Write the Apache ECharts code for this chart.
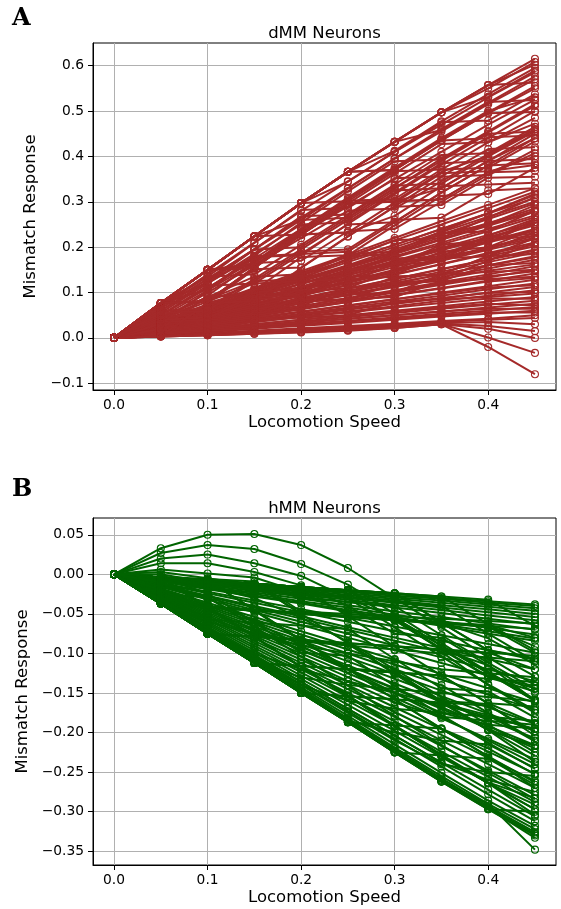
<!DOCTYPE html>
<html><head><meta charset="utf-8">
<script src="https://cdn.jsdelivr.net/npm/echarts@6/dist/echarts.min.js"></script>
<style>html,body{margin:0;padding:0;background:#fff}#c{width:561px;height:909px}</style>
</head><body><div id="c"></div>
<script>
const speeds = [0, 0.05, 0.1, 0.15, 0.2, 0.25, 0.3, 0.35, 0.4, 0.45];
const xTicks = [0, 0.1, 0.2, 0.3, 0.4];
const yTicksA = [-0.1, 0, 0.1, 0.2, 0.3, 0.4, 0.5, 0.6];
const yTicksB = [-0.35, -0.3, -0.25, -0.2, -0.15, -0.1, -0.05, 0, 0.05];

// dMM neurons: steep, staircase-like responses (upper band)
const dmmUpper = [
[0,0.077,0.150,0.224,0.297,0.366,0.432,0.497,0.557,0.615],
[0,0.077,0.150,0.224,0.297,0.366,0.432,0.497,0.550,0.608],
[0,0.077,0.150,0.224,0.297,0.366,0.432,0.497,0.557,0.602],
[0,0.077,0.150,0.224,0.297,0.366,0.412,0.477,0.537,0.595],
[0,0.077,0.150,0.224,0.297,0.366,0.432,0.497,0.531,0.589],
[0,0.070,0.140,0.210,0.280,0.345,0.410,0.470,0.530,0.585],
[0,0.077,0.150,0.224,0.297,0.366,0.432,0.458,0.518,0.576],
[0,0.060,0.125,0.195,0.265,0.330,0.395,0.455,0.515,0.570],
[0,0.077,0.150,0.224,0.297,0.366,0.432,0.497,0.557,0.563],
[0,0.077,0.150,0.164,0.237,0.306,0.372,0.437,0.497,0.555],
[0,0.077,0.150,0.224,0.297,0.366,0.370,0.435,0.495,0.550],
[0,0.077,0.150,0.224,0.297,0.344,0.410,0.475,0.479,0.537],
[0,0.020,0.093,0.167,0.240,0.309,0.375,0.440,0.500,0.530],
[0,0.050,0.110,0.170,0.230,0.290,0.350,0.410,0.470,0.525],
[0,0.077,0.150,0.224,0.260,0.329,0.395,0.460,0.520,0.524],
[0,0.065,0.130,0.195,0.200,0.265,0.330,0.395,0.455,0.515],
[0,0.077,0.107,0.181,0.254,0.323,0.389,0.393,0.453,0.511],
[0,0.050,0.110,0.175,0.240,0.305,0.370,0.435,0.440,0.500],
[0,0.077,0.150,0.224,0.297,0.366,0.370,0.435,0.495,0.498],
[0,0.077,0.150,0.154,0.227,0.296,0.362,0.427,0.431,0.485],
[0,0.077,0.150,0.224,0.297,0.301,0.367,0.371,0.431,0.472],
[0,0.077,0.121,0.195,0.268,0.272,0.338,0.403,0.407,0.465],
[0,0.040,0.100,0.160,0.220,0.280,0.285,0.345,0.405,0.460],
[0,0.077,0.081,0.155,0.228,0.297,0.301,0.366,0.401,0.459],
[0,0.070,0.135,0.140,0.205,0.270,0.335,0.340,0.400,0.455],
[0,0.065,0.130,0.195,0.260,0.265,0.330,0.390,0.450,0.455],
[0,0.055,0.120,0.185,0.250,0.255,0.320,0.385,0.390,0.450],
[0,0.031,0.104,0.178,0.182,0.251,0.317,0.382,0.442,0.446],
[0,0.060,0.065,0.130,0.195,0.260,0.325,0.330,0.390,0.440],
[0,0.060,0.120,0.180,0.185,0.190,0.255,0.320,0.380,0.440],
[0,0.077,0.150,0.160,0.233,0.302,0.306,0.371,0.375,0.433],
[0,0.077,0.135,0.209,0.282,0.286,0.352,0.356,0.416,0.420],
[0,0.045,0.105,0.165,0.170,0.235,0.240,0.300,0.360,0.415],
[0,0.004,0.077,0.151,0.155,0.224,0.290,0.355,0.359,0.407],
[0,0.077,0.081,0.155,0.228,0.297,0.301,0.305,0.365,0.400],
[0,0.077,0.150,0.154,0.227,0.296,0.300,0.330,0.390,0.394],
[0,0.050,0.115,0.120,0.185,0.250,0.255,0.320,0.380,0.385],
[0,0.077,0.081,0.155,0.228,0.232,0.298,0.363,0.367,0.381],
[0,0.004,0.077,0.105,0.178,0.182,0.248,0.313,0.317,0.375],
[0,0.077,0.150,0.224,0.228,0.297,0.301,0.305,0.365,0.368],
[0,0.004,0.077,0.081,0.154,0.223,0.289,0.293,0.353,0.355],
[0,0.077,0.081,0.155,0.228,0.232,0.269,0.334,0.338,0.342],
[0,0.055,0.060,0.125,0.190,0.195,0.260,0.265,0.325,0.330]
];
// dMM neurons: shallower responses (dense lower band)
const dmmLower = [
[0,0.037,0.073,0.110,0.147,0.183,0.220,0.257,0.293,0.330],
[0,0.036,0.072,0.107,0.143,0.179,0.215,0.250,0.286,0.322],
[0,0.037,0.074,0.105,0.140,0.172,0.205,0.240,0.275,0.318],
[0,0.045,0.090,0.095,0.140,0.185,0.190,0.235,0.275,0.315],
[0,0.040,0.085,0.125,0.130,0.175,0.215,0.220,0.265,0.310],
[0,0.034,0.068,0.103,0.137,0.171,0.205,0.240,0.274,0.308],
[0,0.033,0.067,0.100,0.133,0.167,0.200,0.233,0.267,0.300],
[0,0.036,0.070,0.100,0.130,0.160,0.195,0.228,0.262,0.296],
[0,0.040,0.045,0.090,0.135,0.140,0.185,0.230,0.250,0.292],
[0,0.032,0.063,0.095,0.127,0.158,0.190,0.222,0.253,0.285],
[0,0.035,0.066,0.097,0.128,0.156,0.186,0.218,0.250,0.281],
[0,0.045,0.090,0.135,0.140,0.180,0.185,0.230,0.235,0.280],
[0,0.031,0.062,0.093,0.124,0.154,0.185,0.216,0.247,0.278],
[0,0.030,0.060,0.090,0.120,0.150,0.180,0.210,0.240,0.270],
[0,0.033,0.062,0.090,0.118,0.147,0.177,0.206,0.235,0.266],
[0,0.045,0.050,0.095,0.100,0.145,0.175,0.180,0.225,0.262],
[0,0.040,0.050,0.060,0.105,0.150,0.160,0.170,0.215,0.260],
[0,0.028,0.057,0.085,0.113,0.142,0.170,0.198,0.227,0.255],
[0,0.045,0.055,0.100,0.110,0.150,0.160,0.200,0.210,0.255],
[0,0.031,0.058,0.086,0.112,0.138,0.166,0.195,0.222,0.251],
[0,0.028,0.055,0.083,0.110,0.138,0.165,0.193,0.220,0.248],
[0,0.027,0.053,0.080,0.107,0.133,0.160,0.187,0.213,0.240],
[0,0.010,0.020,0.060,0.100,0.110,0.150,0.190,0.200,0.240],
[0,0.029,0.055,0.081,0.106,0.130,0.156,0.182,0.210,0.236],
[0,0.010,0.050,0.090,0.095,0.135,0.140,0.180,0.195,0.232],
[0,0.010,0.055,0.065,0.110,0.120,0.165,0.175,0.220,0.230],
[0,0.025,0.050,0.075,0.100,0.125,0.150,0.175,0.200,0.225],
[0,0.045,0.090,0.100,0.110,0.150,0.160,0.205,0.215,0.225],
[0,0.028,0.052,0.077,0.100,0.124,0.148,0.172,0.198,0.221],
[0,0.040,0.080,0.120,0.125,0.130,0.170,0.175,0.180,0.220],
[0,0.024,0.048,0.073,0.097,0.121,0.145,0.170,0.194,0.218],
[0,0.023,0.047,0.070,0.093,0.117,0.140,0.163,0.187,0.210],
[0,0.010,0.050,0.060,0.070,0.110,0.120,0.130,0.170,0.210],
[0,0.026,0.049,0.072,0.094,0.116,0.139,0.162,0.185,0.206],
[0,0.040,0.045,0.050,0.090,0.130,0.135,0.140,0.180,0.202],
[0,0.022,0.043,0.065,0.087,0.108,0.130,0.152,0.173,0.195],
[0,0.025,0.046,0.067,0.088,0.109,0.130,0.151,0.172,0.192],
[0,0.021,0.042,0.063,0.084,0.104,0.125,0.146,0.167,0.188],
[0,0.040,0.045,0.085,0.090,0.095,0.135,0.140,0.180,0.185],
[0,0.020,0.040,0.060,0.080,0.100,0.120,0.140,0.160,0.180],
[0,0.023,0.043,0.062,0.082,0.101,0.121,0.140,0.160,0.177],
[0,0.019,0.038,0.057,0.076,0.096,0.115,0.134,0.153,0.172],
[0,0.005,0.040,0.045,0.080,0.085,0.120,0.125,0.160,0.165],
[0,0.022,0.040,0.058,0.076,0.094,0.112,0.130,0.148,0.162],
[0,0.018,0.035,0.053,0.070,0.088,0.105,0.123,0.140,0.158],
[0,0.017,0.033,0.050,0.067,0.083,0.100,0.117,0.133,0.150],
[0,0.005,0.010,0.050,0.090,0.095,0.100,0.140,0.145,0.150],
[0,0.020,0.037,0.054,0.070,0.087,0.103,0.120,0.136,0.147],
[0,0.016,0.032,0.047,0.063,0.079,0.095,0.110,0.126,0.142],
[0,0.035,0.040,0.045,0.080,0.085,0.090,0.125,0.130,0.135],
[0,0.018,0.034,0.049,0.064,0.079,0.094,0.109,0.124,0.132],
[0,0.014,0.028,0.043,0.057,0.071,0.085,0.100,0.114,0.128],
[0,0.013,0.027,0.040,0.053,0.067,0.080,0.093,0.107,0.120],
[0,0.017,0.031,0.045,0.058,0.072,0.085,0.098,0.111,0.116],
[0,0.012,0.025,0.037,0.050,0.062,0.075,0.087,0.100,0.112],
[0,0.012,0.023,0.035,0.047,0.058,0.070,0.082,0.093,0.105],
[0,0.015,0.028,0.040,0.052,0.064,0.076,0.088,0.099,0.101],
[0,0.005,0.010,0.040,0.045,0.050,0.080,0.085,0.090,0.098],
[0,0.010,0.020,0.030,0.040,0.050,0.060,0.070,0.080,0.090],
[0,0.013,0.024,0.035,0.046,0.056,0.067,0.077,0.087,0.086],
[0,0.009,0.018,0.027,0.036,0.046,0.055,0.064,0.073,0.082],
[0,0.008,0.017,0.025,0.033,0.042,0.050,0.058,0.067,0.075],
[0,0.011,0.021,0.030,0.040,0.049,0.058,0.067,0.075,0.072],
[0,0.008,0.015,0.023,0.030,0.038,0.045,0.053,0.060,0.068],
[0,0.010,0.018,0.026,0.034,0.042,0.050,0.058,0.064,0.064],
[0,0.007,0.013,0.020,0.027,0.033,0.040,0.047,0.053,0.060],
[0,0.008,0.015,0.022,0.029,0.036,0.043,0.050,0.056,0.056]
];
// dMM neurons: weakest responses, some turning negative
const dmmLow = [
[0,0.005,0.011,0.016,0.021,0.026,0.031,0.037,0.042,0.050],
[0,0.005,0.010,0.015,0.019,0.024,0.029,0.035,0.040,0.044],
[0,0.004,0.009,0.013,0.018,0.022,0.027,0.033,0.035,0.030],
[0,0.004,0.008,0.012,0.016,0.020,0.025,0.032,0.026,0.015],
[0,0.003,0.006,0.010,0.014,0.018,0.024,0.030,0.020,0.000],
[0,0.003,0.006,0.009,0.012,0.016,0.022,0.030,0.001,-0.033],
[0,0.003,0.006,0.009,0.013,0.017,0.022,0.030,-0.020,-0.080]
];

// hMM neurons: early positive hump, then decline
const hmmHump = [
[0,0.033,0.050,0.051,0.037,0.008,-0.030,-0.067,-0.105,-0.140],
[0,0.027,0.037,0.032,0.013,-0.013,-0.050,-0.087,-0.123,-0.158],
[0,0.020,0.025,0.014,-0.002,-0.030,-0.035,-0.040,-0.075,-0.110],
[0,0.014,0.014,0.003,-0.014,-0.040,-0.075,-0.080,-0.115,-0.150],
[0,0.006,0.001,-0.004,-0.023,-0.050,-0.055,-0.090,-0.125,-0.160],
[0,0.003,-0.005,-0.014,-0.030,-0.035,-0.040,-0.077,-0.112,-0.145],
[0,0.000,-0.010,-0.020,-0.025,-0.030,-0.067,-0.104,-0.139,-0.172]
];
// hMM neurons: weak, nearly linear decline
const hmmWeak = [
[0,-0.004,-0.008,-0.013,-0.017,-0.021,-0.025,-0.030,-0.034,-0.038],
[0,-0.004,-0.009,-0.013,-0.018,-0.022,-0.027,-0.031,-0.036,-0.040],
[0,-0.005,-0.010,-0.014,-0.019,-0.024,-0.029,-0.033,-0.038,-0.043],
[0,-0.005,-0.010,-0.015,-0.020,-0.026,-0.031,-0.036,-0.041,-0.046],
[0,-0.006,-0.011,-0.017,-0.022,-0.028,-0.033,-0.039,-0.044,-0.050],
[0,-0.006,-0.012,-0.018,-0.024,-0.030,-0.036,-0.042,-0.048,-0.054],
[0,-0.006,-0.013,-0.019,-0.026,-0.032,-0.039,-0.045,-0.052,-0.058],
[0,-0.007,-0.014,-0.021,-0.028,-0.035,-0.042,-0.049,-0.056,-0.063],
[0,-0.008,-0.016,-0.023,-0.031,-0.039,-0.047,-0.054,-0.062,-0.070],
[0,-0.008,-0.017,-0.025,-0.034,-0.042,-0.051,-0.059,-0.068,-0.076],
[0,-0.009,-0.018,-0.027,-0.036,-0.045,-0.054,-0.063,-0.072,-0.081],
[0,-0.009,-0.019,-0.028,-0.037,-0.047,-0.056,-0.065,-0.075,-0.084],
[0,-0.011,-0.022,-0.033,-0.044,-0.055,-0.066,-0.077,-0.088,-0.099],
[0,-0.012,-0.024,-0.036,-0.048,-0.060,-0.072,-0.084,-0.096,-0.108],
[0,-0.013,-0.027,-0.040,-0.053,-0.067,-0.080,-0.093,-0.107,-0.120],
[0,-0.015,-0.030,-0.045,-0.060,-0.075,-0.090,-0.105,-0.120,-0.135],
[0,-0.016,-0.032,-0.048,-0.064,-0.080,-0.096,-0.112,-0.128,-0.144],
[0,-0.018,-0.036,-0.054,-0.072,-0.090,-0.108,-0.126,-0.144,-0.162],
[0,-0.019,-0.038,-0.057,-0.076,-0.095,-0.114,-0.133,-0.152,-0.171],
[0,-0.021,-0.042,-0.063,-0.084,-0.105,-0.126,-0.147,-0.168,-0.189],
[0,-0.022,-0.044,-0.066,-0.088,-0.110,-0.132,-0.154,-0.176,-0.198],
[0,-0.023,-0.046,-0.069,-0.092,-0.115,-0.138,-0.161,-0.184,-0.207],
[0,-0.024,-0.048,-0.072,-0.096,-0.120,-0.144,-0.168,-0.192,-0.216],
[0,-0.020,-0.045,-0.070,-0.095,-0.120,-0.145,-0.170,-0.195,-0.220],
[0,-0.026,-0.052,-0.078,-0.104,-0.130,-0.156,-0.182,-0.208,-0.234],
[0,-0.010,-0.030,-0.060,-0.090,-0.120,-0.150,-0.180,-0.210,-0.240],
[0,-0.028,-0.056,-0.084,-0.112,-0.140,-0.168,-0.196,-0.224,-0.252],
[0,-0.029,-0.058,-0.087,-0.116,-0.145,-0.174,-0.203,-0.232,-0.261],
[0,-0.030,-0.060,-0.090,-0.120,-0.150,-0.180,-0.210,-0.240,-0.270],
[0,-0.031,-0.062,-0.093,-0.124,-0.155,-0.186,-0.217,-0.248,-0.279],
[0,-0.032,-0.064,-0.096,-0.128,-0.160,-0.192,-0.224,-0.256,-0.288],
[0,-0.033,-0.066,-0.099,-0.132,-0.165,-0.198,-0.231,-0.264,-0.297]
];
// hMM neurons: staircase-like declines
const hmmStep = [
[0,-0.037,-0.075,-0.112,-0.150,-0.187,-0.225,-0.262,-0.297,-0.330],
[0,-0.037,-0.074,-0.111,-0.148,-0.186,-0.223,-0.260,-0.296,-0.333],
[0,-0.036,-0.074,-0.111,-0.149,-0.186,-0.224,-0.261,-0.295,-0.328],
[0,-0.036,-0.073,-0.110,-0.147,-0.184,-0.221,-0.258,-0.293,-0.326],
[0,-0.036,-0.072,-0.108,-0.145,-0.182,-0.219,-0.255,-0.290,-0.322],
[0,-0.037,-0.075,-0.112,-0.150,-0.187,-0.225,-0.262,-0.290,-0.348],
[0,-0.035,-0.071,-0.107,-0.143,-0.179,-0.215,-0.251,-0.286,-0.318],
[0,-0.035,-0.070,-0.104,-0.139,-0.173,-0.208,-0.243,-0.278,-0.312],
[0,-0.034,-0.068,-0.102,-0.136,-0.170,-0.204,-0.238,-0.272,-0.306],
[0,-0.004,-0.042,-0.079,-0.117,-0.154,-0.192,-0.229,-0.264,-0.297],
[0,-0.037,-0.075,-0.112,-0.116,-0.153,-0.191,-0.228,-0.263,-0.283],
[0,-0.037,-0.075,-0.112,-0.150,-0.187,-0.225,-0.229,-0.264,-0.291],
[0,-0.037,-0.075,-0.079,-0.117,-0.154,-0.192,-0.229,-0.233,-0.266],
[0,-0.037,-0.075,-0.112,-0.150,-0.154,-0.192,-0.229,-0.264,-0.304],
[0,-0.025,-0.029,-0.066,-0.104,-0.141,-0.179,-0.216,-0.251,-0.284],
[0,-0.037,-0.075,-0.112,-0.150,-0.187,-0.225,-0.262,-0.297,-0.300],
[0,-0.034,-0.068,-0.102,-0.136,-0.170,-0.204,-0.238,-0.260,-0.275],
[0,-0.004,-0.042,-0.079,-0.117,-0.154,-0.158,-0.195,-0.230,-0.270],
[0,-0.035,-0.070,-0.105,-0.140,-0.175,-0.210,-0.240,-0.250,-0.255],
[0,-0.037,-0.075,-0.112,-0.150,-0.187,-0.191,-0.195,-0.220,-0.253],
[0,-0.037,-0.041,-0.045,-0.083,-0.120,-0.158,-0.195,-0.230,-0.263],
[0,-0.037,-0.057,-0.061,-0.099,-0.103,-0.141,-0.178,-0.213,-0.246],
[0,-0.037,-0.075,-0.112,-0.150,-0.185,-0.200,-0.210,-0.215,-0.245],
[0,-0.037,-0.075,-0.112,-0.116,-0.120,-0.124,-0.161,-0.196,-0.229],
[0,-0.004,-0.008,-0.012,-0.050,-0.087,-0.125,-0.162,-0.197,-0.237],
[0,-0.008,-0.016,-0.030,-0.055,-0.085,-0.120,-0.155,-0.190,-0.225],
[0,-0.037,-0.075,-0.079,-0.083,-0.087,-0.125,-0.162,-0.197,-0.217],
[0,-0.004,-0.042,-0.046,-0.084,-0.088,-0.126,-0.163,-0.178,-0.211],
[0,-0.020,-0.040,-0.060,-0.080,-0.100,-0.120,-0.140,-0.175,-0.210],
[0,-0.037,-0.041,-0.078,-0.082,-0.119,-0.123,-0.160,-0.164,-0.204],
[0,-0.037,-0.075,-0.112,-0.150,-0.154,-0.158,-0.162,-0.166,-0.199],
[0,-0.035,-0.070,-0.100,-0.120,-0.135,-0.150,-0.165,-0.180,-0.195],
[0,-0.025,-0.050,-0.075,-0.100,-0.125,-0.150,-0.175,-0.190,-0.195],
[0,-0.027,-0.054,-0.081,-0.108,-0.135,-0.162,-0.180,-0.185,-0.190],
[0,-0.004,-0.008,-0.012,-0.016,-0.053,-0.091,-0.128,-0.163,-0.188],
[0,-0.036,-0.072,-0.108,-0.140,-0.160,-0.170,-0.175,-0.180,-0.185],
[0,-0.004,-0.024,-0.061,-0.065,-0.069,-0.107,-0.144,-0.148,-0.181],
[0,-0.014,-0.028,-0.042,-0.056,-0.070,-0.084,-0.098,-0.140,-0.175],
[0,-0.037,-0.075,-0.112,-0.116,-0.120,-0.124,-0.128,-0.163,-0.167],
[0,-0.037,-0.074,-0.110,-0.130,-0.140,-0.145,-0.150,-0.155,-0.160],
[0,-0.005,-0.010,-0.015,-0.020,-0.030,-0.055,-0.090,-0.125,-0.160],
[0,-0.037,-0.075,-0.079,-0.083,-0.087,-0.091,-0.095,-0.115,-0.160],
[0,-0.004,-0.008,-0.012,-0.016,-0.020,-0.058,-0.095,-0.130,-0.148],
[0,-0.037,-0.041,-0.045,-0.049,-0.053,-0.057,-0.094,-0.129,-0.141],
[0,-0.004,-0.008,-0.045,-0.083,-0.120,-0.124,-0.128,-0.132,-0.136],
[0,-0.030,-0.055,-0.075,-0.090,-0.100,-0.110,-0.120,-0.125,-0.130],
[0,-0.004,-0.008,-0.012,-0.016,-0.020,-0.024,-0.061,-0.096,-0.129],
[0,-0.004,-0.008,-0.012,-0.050,-0.054,-0.058,-0.095,-0.099,-0.120],
[0,-0.037,-0.041,-0.045,-0.049,-0.053,-0.057,-0.061,-0.081,-0.114],
[0,-0.036,-0.060,-0.075,-0.085,-0.090,-0.095,-0.100,-0.105,-0.110],
[0,-0.004,-0.008,-0.045,-0.049,-0.053,-0.057,-0.061,-0.096,-0.106],
[0,-0.037,-0.075,-0.079,-0.083,-0.087,-0.091,-0.095,-0.099,-0.103],
[0,-0.004,-0.008,-0.012,-0.016,-0.020,-0.058,-0.062,-0.066,-0.099],
[0,-0.004,-0.008,-0.012,-0.016,-0.020,-0.024,-0.028,-0.063,-0.096],
[0,-0.004,-0.042,-0.046,-0.050,-0.054,-0.058,-0.062,-0.066,-0.091],
[0,-0.004,-0.008,-0.012,-0.016,-0.020,-0.024,-0.061,-0.064,-0.080],
[0,-0.037,-0.041,-0.045,-0.049,-0.053,-0.057,-0.061,-0.065,-0.069],
[0,-0.004,-0.008,-0.012,-0.016,-0.020,-0.024,-0.028,-0.032,-0.065],
[0,-0.003,-0.006,-0.009,-0.047,-0.050,-0.053,-0.056,-0.059,-0.062]
];

const RED = '#a52a2a', GREEN = '#006400';
const FONT = '"DejaVu Sans", sans-serif';
const MINUS = '\u2212';
function fmt(d) { return v => (v < -1e-9 ? MINUS : '') + Math.abs(v).toFixed(d); }

function mkSeries(groups, color, idx) {
  const out = [];
  groups.forEach(g => g.forEach(vals => {
    out.push({
      type: 'line', xAxisIndex: idx, yAxisIndex: idx,
      data: speeds.map((x, i) => [x, vals[i]]),
      symbol: 'circle', symbolSize: 7, showSymbol: true,
      lineStyle: { color: color, width: 2 },
      itemStyle: { color: 'rgba(0,0,0,0)', borderColor: color, borderWidth: 1.1 },
      emphasis: { disabled: true }, silent: true, animation: false, clip: false
    });
  }));
  return out;
}

function xAx(idx) {
  return {
    gridIndex: idx, type: 'value', min: -0.0225, max: 0.4725,
    axisLine: { show: true, onZero: false, lineStyle: { color: '#000', width: 1 } },
    axisTick: { show: true, length: 5, lineStyle: { color: '#000', width: 1 }, customValues: xTicks },
    axisLabel: { customValues: xTicks, formatter: fmt(1), fontSize: 13.8, color: '#000', fontFamily: FONT, margin: 8 },
    splitLine: { show: true, lineStyle: { color: '#b0b0b0', width: 1 } },
    name: 'Locomotion Speed', nameLocation: 'middle', nameGap: 24,
    nameTextStyle: { fontSize: 16.5, color: '#000', fontFamily: FONT }
  };
}
function yAx(idx, min, max, ticks, dec, gap) {
  return {
    gridIndex: idx, type: 'value', min: min, max: max,
    axisLine: { show: true, onZero: false, lineStyle: { color: '#000', width: 1 } },
    axisTick: { show: true, length: 5, lineStyle: { color: '#000', width: 1 }, customValues: ticks },
    axisLabel: { customValues: ticks, formatter: fmt(dec), fontSize: 13.8, color: '#000', fontFamily: FONT, margin: 9 },
    splitLine: { show: true, lineStyle: { color: '#b0b0b0', width: 1 } },
    name: 'Mismatch Response', nameLocation: 'middle', nameGap: gap, nameRotate: 90,
    nameTextStyle: { fontSize: 16.5, color: '#000', fontFamily: FONT }
  };
}

const chart = echarts.init(document.getElementById('c'), null, { renderer: 'canvas' });
chart.setOption({
  animation: false,
  backgroundColor: '#fff',
  grid: [
    { left: 93, top: 43, width: 463, height: 347, show: true, borderColor: '#000', borderWidth: 1, backgroundColor: 'rgba(0,0,0,0)' },
    { left: 93, top: 518, width: 463, height: 347, show: true, borderColor: '#000', borderWidth: 1, backgroundColor: 'rgba(0,0,0,0)' }
  ],
  xAxis: [xAx(0), xAx(1)],
  yAxis: [yAx(0, -0.1148, 0.6498, yTicksA, 1, 38), yAx(1, -0.3674, 0.0712, yTicksB, 2, 46)],
  graphic: [
    { type: 'text', x: 324.5, y: 42, style: { text: 'dMM Neurons', font: '16.5px ' + FONT, fill: '#000', align: 'center', verticalAlign: 'bottom' } },
    { type: 'text', x: 324.5, y: 517, style: { text: 'hMM Neurons', font: '16.5px ' + FONT, fill: '#000', align: 'center', verticalAlign: 'bottom' } },
    { type: 'text', x: 12, y: 31, style: { text: 'A', font: 'bold 24px "DejaVu Serif", serif', fill: '#000', align: 'left', verticalAlign: 'bottom' } },
    { type: 'text', x: 12, y: 502, style: { text: 'B', font: 'bold 24px "DejaVu Serif", serif', fill: '#000', align: 'left', verticalAlign: 'bottom' } }
  ],
  series: mkSeries([dmmLower, dmmLow, dmmUpper], RED, 0).concat(mkSeries([hmmStep, hmmWeak, hmmHump], GREEN, 1))
});
</script>
</body></html>
